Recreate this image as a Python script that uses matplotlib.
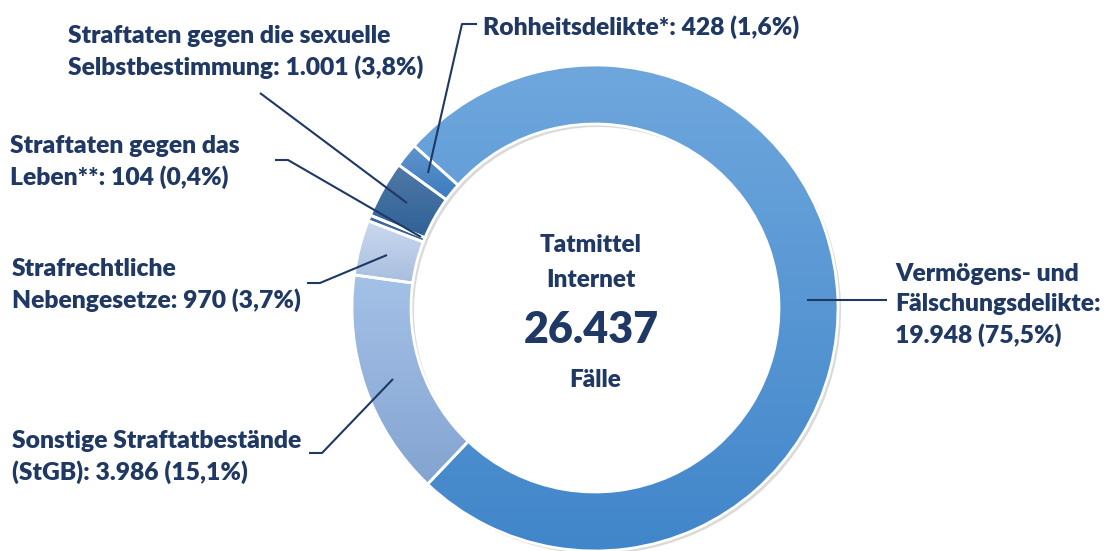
import numpy as np
import matplotlib
matplotlib.use("Agg")
import matplotlib.pyplot as plt
from matplotlib.colors import LinearSegmentedColormap

# === Data ===
categories = [
    "Vermögens- und\nFälschungsdelikte:",
    "Sonstige Straftatbestände\n(StGB):",
    "Strafrechtliche\nNebengesetze:",
    "Straftaten gegen das\nLeben**:",
    "Straftaten gegen die sexuelle\nSelbstbestimmung:",
    "Rohheitsdelikte*:",
]
cases = [19948, 3986, 970, 104, 1001, 428]
shares = ["75,5%", "15,1%", "3,7%", "0,4%", "3,8%", "1,6%"]
total = 26437

# top / bottom gradient colours per slice
grad_top = ["#6FA7DD", "#A4C1E7", "#CAD9EF", "#43709F", "#5079A6", "#6094CC"]
grad_bot = ["#4186CA", "#84A4D1", "#A8BEDF", "#35618F", "#2E6197", "#3B7BBE"]

NAVY = "#1F3864"
plt.rcParams['font.family'] = ['Lato', 'DejaVu Sans']


def fmt(n):
    return f"{n:,}".replace(",", ".")


# === Figure in pixel coordinates ===
W, H = 1104, 551
fig = plt.figure(figsize=(W / 100, H / 100), dpi=100)
ax = fig.add_axes([0, 0, 1, 1])
ax.set_xlim(0, W)
ax.set_ylim(H, 0)
ax.axis("off")

cx, cy, R, ring = 595, 308, 243, 59

# drop shadow of the ring
sh, _ = ax.pie(cases, radius=R, center=(cx + 3, cy + 3), startangle=-138.1,
               counterclock=True, wedgeprops=dict(width=ring, linewidth=0))
for w in sh:
    w.set_facecolor("#BDBDBD")
    w.set_alpha(0.55)
    w.set_zorder(0)

# === Donut ===
wedges, _ = ax.pie(cases, radius=R, center=(cx, cy), startangle=-138.1,
                   counterclock=True,
                   wedgeprops=dict(width=ring, edgecolor="white", linewidth=2))
ax.set_aspect("equal")

grad = np.linspace(0, 1, 256).reshape(-1, 1)
for w, c0, c1 in zip(wedges, grad_top, grad_bot):
    w.set_facecolor("none")
    w.set_zorder(2)
    bb = w.get_path().get_extents(w.get_transform() + ax.transData.inverted())
    cmap = LinearSegmentedColormap.from_list("g", [c0, c1])
    im = ax.imshow(grad, cmap=cmap, aspect="auto", zorder=1,
                   extent=(bb.x0, bb.x1, bb.y1, bb.y0), interpolation="bilinear")
    im.set_clip_path(w)

ax.set_xlim(0, W)
ax.set_ylim(H, 0)

# === Labels ===
fs = 17.7
fw = "heavy"
lab_pos = [(895, 305, "left"), (12, 457, "left"), (12, 285, "left"),
           (10, 162, "left"), (68, 52, "left"), (483, 27, "left")]
for cat, n, s, (x, y, ha) in zip(categories, cases, shares, lab_pos):
    if cat.startswith("Verm"):
        txt = f"{cat}\n{fmt(n)} ({s})"
    else:
        txt = f"{cat} {fmt(n)} ({s})"
    ax.text(x, y, txt, ha=ha, va="center", fontsize=fs, fontweight=fw,
            color=NAVY, linespacing=1.42)

# leader lines (label -> slice)
leaders = [
    [(887, 300), (807, 300)],
    [(309, 453), (322, 453), (393, 379)],
    [(307, 283), (320, 283), (387, 255)],
    [(275, 160), (288, 160), (421, 237)],
    [(260, 93), (407, 203)],
    [(477, 24), (462, 24), (428, 173)],
]
for pts in leaders:
    xs, ys = zip(*pts)
    ax.plot(xs, ys, color=NAVY, lw=1.5, zorder=5, solid_capstyle="butt")

# === Centre text ===
ax.text(591, 245, "Tatmittel", ha="center", va="center",
        fontsize=17.5, fontweight=fw, color=NAVY)
ax.text(591, 280, "Internet", ha="center", va="center",
        fontsize=17.5, fontweight=fw, color=NAVY)
ax.text(591, 330, fmt(total), ha="center", va="center",
        fontsize=31, fontweight=fw, color=NAVY)
ax.text(595, 380, "Fälle", ha="center", va="center",
        fontsize=17.5, fontweight=fw, color=NAVY)

fig.savefig("out.png", dpi=100)
